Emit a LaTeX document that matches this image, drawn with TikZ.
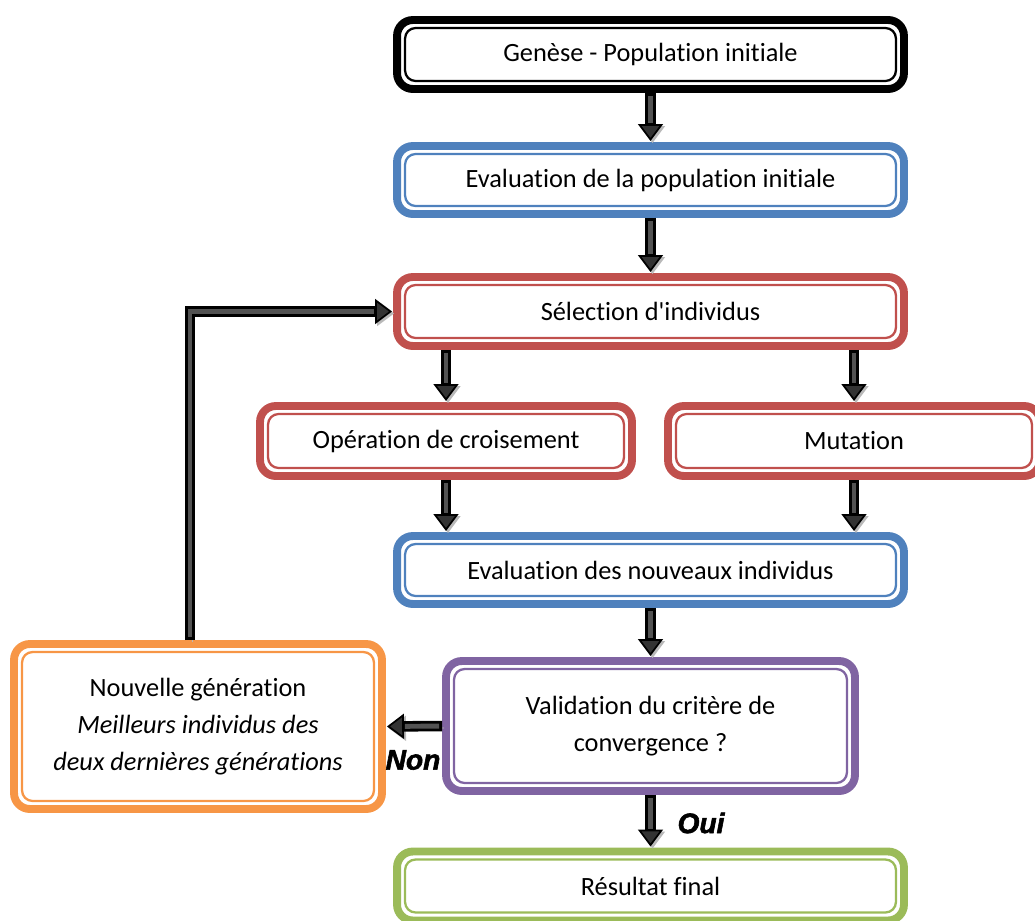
\documentclass[tikz,border=0pt]{standalone}
\usepackage{fontspec}
\setmainfont{Carlito}[Ligatures={NoCommon}]
\newfontfamily\wordart{Liberation Sans}[BoldItalicFeatures={FakeBold=2}]
\usetikzlibrary{arrows.meta,calc,positioning}
\definecolor{stblue}{HTML}{4F81BD}
\definecolor{stred}{HTML}{C0504D}
\definecolor{stpurple}{HTML}{8064A2}
\definecolor{storange}{HTML}{F79646}
\definecolor{stgreen}{HTML}{9BBB59}
\tikzset{
  line join=round,
  stage/.style={draw=#1, line width=4.5pt, rounded corners=9pt, outer sep=0pt,
    minimum width=10.14cm, minimum height=1.38cm, align=center,
    font=\fontsize{15}{21}\selectfont},
  innerframe/.style={line width=1.3pt, rounded corners=6pt},
  blockarr/.style={line width=6pt, draw=black, line join=miter,
    shorten <=0.08cm, shorten >=0.1cm,
    -{Triangle[length=0.34cm, width=0.5cm, line width=1pt, fill=black!80]},
    preaction={draw=gray!55, transform canvas={shift={(2,2)}},
      -{Triangle[length=0.34cm, width=0.5cm, line width=1pt]}},
    postaction={draw=black!68, line width=2.8pt, -, shorten <=0.14cm, shorten >=0.46cm}},
  answer/.style={font=\wordart\bfseries\itshape\fontsize{16}{18}\selectfont}
}

\begin{document}
\begin{tikzpicture}[x=0.02cm,y=-0.02cm]
  \useasboundingbox (0,0) rectangle (1035,920);

  \node[stage=black] (gen) at (650.5,54.5) {Genèse - Population initiale};
  \node[stage=stblue, minimum height=1.36cm] (evi) at (650.5,180) {Evaluation de la population initiale};
  \node[stage=stred] (sel) at (650.5,311.5) {Sélection d\textquotesingle individus};
  \node[stage=stred, minimum width=7.44cm, minimum height=1.4cm] (cro) at (446,441) {Opération de croisement};
  \node[stage=stred, minimum width=7.44cm, minimum height=1.4cm] (mut) at (854,441) {Mutation};
  \node[stage=stblue, minimum height=1.36cm] (evn) at (650.5,570) {Evaluation des nouveaux individus};
  \node[stage=stpurple, minimum width=8.18cm, minimum height=2.6cm] (val) at (650.5,726) {Validation du critère de\\convergence ?};
  \node[stage=storange, minimum width=7.36cm, minimum height=3.3cm] (nou) at (198,726.5)
    {Nouvelle génération\\\textit{Meilleurs individus des}\\\textit{deux dernières générations}};
  \node[stage=stgreen] (res) at (650.5,886) {Résultat final};

  % inner frames
  \foreach \n/\c in {gen/black,evi/stblue,sel/stred,cro/stred,mut/stred,evn/stblue,val/stpurple,nou/storange,res/stgreen}
    \draw[innerframe, \c] ([shift={(8,8)}]\n.north west) rectangle ([shift={(-8,-8)}]\n.south east);

  \draw[blockarr] (gen.south) -- (evi.north);
  \draw[blockarr] (evi.south) -- (sel.north);
  \draw[blockarr] (cro.north |- sel.south) -- (cro.north);
  \draw[blockarr] (mut.north |- sel.south) -- (mut.north);
  \draw[blockarr] (cro.south) -- (cro.south |- evn.north);
  \draw[blockarr] (mut.south) -- (mut.south |- evn.north);
  \draw[blockarr] (evn.south) -- (val.north);
  \draw[blockarr] (val.west) -- (nou.east);
  \draw[blockarr] (val.south) -- (res.north);
  \draw[blockarr] ([xshift=-0.16cm]nou.north) |- (sel.west);

  \node[answer] (non) at (413,760) {Non};
  \node[answer] (oui) at (701,823) {Oui};
\end{tikzpicture}
\end{document}
